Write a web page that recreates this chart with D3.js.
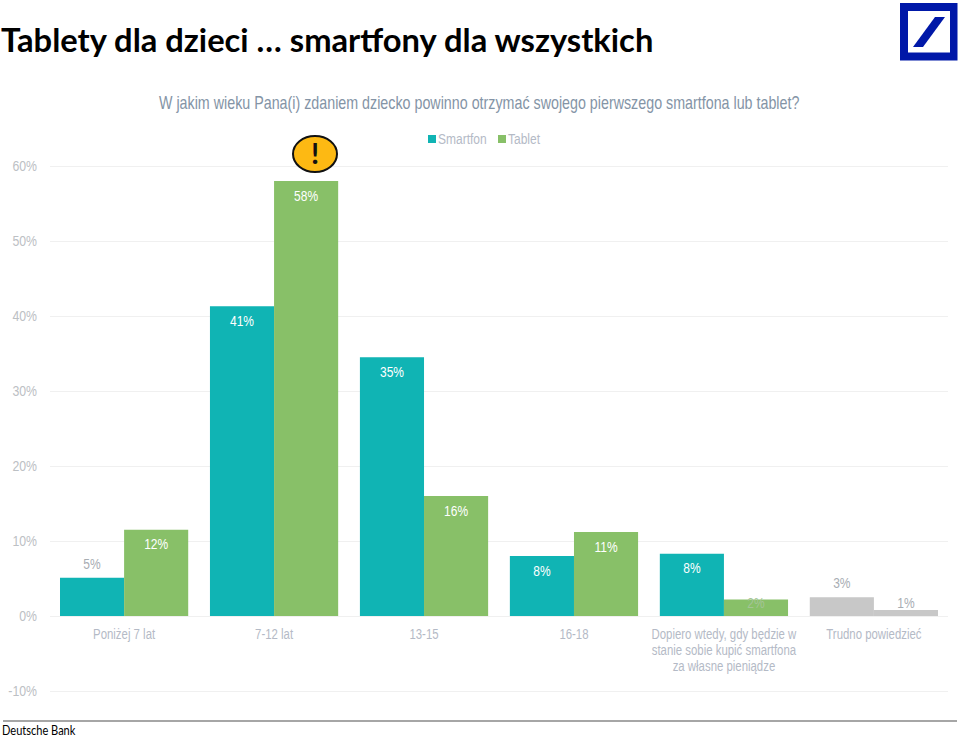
<!DOCTYPE html>
<html>
<head>
<meta charset="utf-8">
<script src="https://cdn.jsdelivr.net/npm/d3@7"></script>
<style>
    html, body { margin: 0; padding: 0; background: #fff; }
    text { font-family: "Liberation Sans", sans-serif; }
</style>
</head>
<body>
<svg id="chart" width="960" height="738"></svg>
<script>
var categories = [
    ['Poniżej 7 lat'],
    ['7-12 lat'],
    ['13-15'],
    ['16-18'],
    ['Dopiero wtedy, gdy będzie w', 'stanie sobie kupić smartfona', 'za własne pieniądze'],
    ['Trudno powiedzieć']
];
var seriesNames = ['Smartfon', 'Tablet'];
var smartfon = [5.1, 41.3, 34.5, 8, 8.3, 2.5];
var tablet = [11.5, 58, 16, 11.2, 2.2, 0.8];
var smartfonLabels = ['5%', '41%', '35%', '8%', '8%', '3%'];
var tabletLabels = ['12%', '58%', '16%', '11%', '2%', '1%'];
var yTicks = [-10, 0, 10, 20, 30, 40, 50, 60];

var TEAL = '#10b4b4', GREEN = '#88c068', GREY = '#c8c8c8';
var AXIS_TEXT = '#b4bac6', GRID = '#f0f0f0';

var svg = d3.select('#chart');

// the original uses a condensed face, none is installed so squeeze the glyphs
function condense(sel, factor) {
    sel.each(function () {
        var tx = +this.getAttribute('x') || 0, ty = +this.getAttribute('y') || 0;
        d3.select(this).attr('transform',
            'translate(' + tx + ',' + ty + ') scale(' + factor + ',1) translate(' + (-tx) + ',' + (-ty) + ')');
    });
}

var y = d3.scaleLinear().domain([-10, 60]).range([691, 166]);
var x0 = d3.scaleBand().domain(d3.range(categories.length)).range([49.5, 948.5]).paddingInner(0.145).paddingOuter(0.07);
var x1 = d3.scaleBand().domain([0, 1]).range([0, x0.bandwidth()]);

// grid + y labels
var yAxis = svg.append('g').attr('transform', 'translate(50,0)')
    .call(d3.axisLeft(y).tickValues(yTicks).tickSize(-898).tickFormat(function (d) { return d + '%'; }));
yAxis.select('.domain').remove();
yAxis.selectAll('line').attr('stroke', GRID).attr('stroke-width', 1);
yAxis.selectAll('text').attr('x', -13).attr('fill', '#bcc0c4').style('font-size', '15px')
    .call(condense, 0.82);

// bars
var bars = [];
categories.forEach(function (c, i) {
    bars.push({ cat: i, s: 0, v: smartfon[i], label: smartfonLabels[i] });
    bars.push({ cat: i, s: 1, v: tablet[i], label: tabletLabels[i] });
});

function barColor(d) {
    if (d.cat == categories.length - 1) return GREY;
    return d.s == 0 ? TEAL : GREEN;
}

svg.append('g').selectAll('rect').data(bars).enter().append('rect')
    .attr('x', function (d) { return x0(d.cat) + x1(d.s); })
    .attr('y', function (d) { return y(d.v); })
    .attr('width', x1.bandwidth())
    .attr('height', function (d) { return y(0) - y(d.v); })
    .attr('fill', barColor);

// data labels: big bars carry them inside in white, small ones sit above in grey
function labelOffset(d) {
    if (d.v >= 8) return 14.5;
    if (d.label == '2%') return 3;
    if (d.label == '1%') return -7;
    return -14;
}
svg.append('g').selectAll('text').data(bars).enter().append('text')
    .attr('x', function (d) { return x0(d.cat) + x1(d.s) + x1.bandwidth() / 2; })
    .attr('y', function (d) { return y(d.v) + labelOffset(d); })
    .attr('dy', '0.35em')
    .attr('text-anchor', 'middle')
    .attr('fill', function (d) {
        if (d.v >= 8) return '#fff';
        return d.label == '2%' ? '#a4c496' : '#a8adb3';
    })
    .style('font-size', '15px')
    .text(function (d) { return d.label; })
    .call(condense, 0.8);

// category labels
var catG = svg.append('g').selectAll('g').data(categories).enter().append('g')
    .attr('transform', function (d, i) { return 'translate(' + (x0(i) + x0.bandwidth() / 2) + ',0)'; });
catG.selectAll('text').data(function (d) { return d; }).enter().append('text')
    .attr('y', function (d, i) { return 639 + i * 16; })
    .attr('text-anchor', 'middle')
    .attr('fill', AXIS_TEXT)
    .style('font-size', '15px')
    .text(function (d) { return d; })
    .call(condense, 0.76);

// title
svg.append('text')
    .attr('x', 1).attr('y', 52)
    .attr('fill', '#000')
    .style('font-family', 'Lato, sans-serif')
    .style('font-weight', 700)
    .style('font-size', '32.7px')
    .text('Tablety dla dzieci … smartfony dla wszystkich');

svg.append('text')
    .attr('x', 159).attr('y', 109)
    .attr('fill', '#8494a6')
    .style('font-size', '19px')
    .text('W jakim wieku Pana(i) zdaniem dziecko powinno otrzymać swojego pierwszego smartfona lub tablet?')
    .call(condense, 0.752);

// legend
var legendX = [428, 498];
seriesNames.forEach(function (name, i) {
    svg.append('rect').attr('x', legendX[i]).attr('y', 135).attr('width', 8).attr('height', 8)
        .attr('fill', i == 0 ? TEAL : GREEN);
    svg.append('text').attr('x', legendX[i] + 10).attr('y', 144)
        .attr('fill', AXIS_TEXT).style('font-size', '15px').text(name)
        .call(condense, 0.8);
});

// exclamation badge
svg.append('ellipse').attr('cx', 315).attr('cy', 154).attr('rx', 22).attr('ry', 18)
    .attr('fill', '#fdb913').attr('stroke', '#111').attr('stroke-width', 2);
svg.append('text').attr('x', 315).attr('y', 164).attr('text-anchor', 'middle')
    .attr('fill', '#111')
    .style('font-family', 'Lato, sans-serif').style('font-weight', 700).style('font-size', '29px').text('!');

// logo
svg.append('rect').attr('x', 900).attr('y', 3).attr('width', 57.5).attr('height', 57.5).attr('fill', '#0018a8');
svg.append('rect').attr('x', 908).attr('y', 11).attr('width', 42).attr('height', 41.5).attr('fill', '#fff');
svg.append('path').attr('d', 'M935,17L945,17L923,47L913,47Z').attr('fill', '#0018a8');

// footer
svg.append('line').attr('x1', 3).attr('x2', 957).attr('y1', 721).attr('y2', 721)
    .attr('stroke', '#888').attr('stroke-width', 1.5);
svg.append('text').attr('x', 2).attr('y', 735)
    .attr('fill', '#000')
    .style('font-family', 'Lato, sans-serif')
    .style('font-size', '13px')
    .text('Deutsche Bank')
    .call(condense, 0.85);
</script>
</body>
</html>
